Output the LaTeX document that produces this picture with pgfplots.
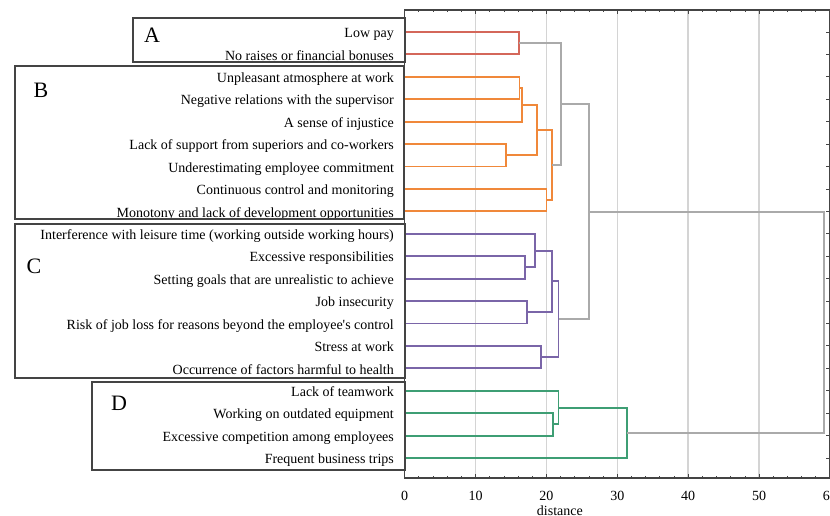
\documentclass[border=0pt]{standalone}
\usepackage{pgfplots}
\pgfplotsset{compat=1.18}
\usepackage{fontspec}
\setmainfont{Liberation Serif}
\definecolor{cA}{HTML}{D4675A}
\definecolor{cB}{HTML}{F0883A}
\definecolor{cC}{HTML}{7A65A8}
\definecolor{cD}{HTML}{3E9E74}
\definecolor{cG}{HTML}{AAAAAA}
\definecolor{grd}{HTML}{D4D4D4}
\definecolor{frm}{HTML}{444444}
\begin{document}
\begin{tikzpicture}[x=1pt,y=1pt]
\clip (-404.7,-37) rectangle (425.3,478);
\begin{axis}[
  at={(0,0)}, anchor=south west,
  scale only axis, width=425.3pt, height=468pt,
  xmin=0, xmax=60, ymin=0.108, ymax=20.98,
  xtick={0,10,...,60}, minor x tick num=4,
  ytick={1,...,20},
  yticklabels={Frequent business trips,
    Excessive competition among employees,
    Working on outdated equipment,
    Lack of teamwork,
    Occurrence of factors harmful to health,
    Stress at work,
    Risk of job loss for reasons beyond the employee\textquotesingle s control,
    Job insecurity,
    Setting goals that are unrealistic to achieve,
    Excessive responsibilities,
    Interference with leisure time (working outside working hours),
    Monotony and lack of development opportunities,
    Continuous control and monitoring,
    Underestimating employee commitment,
    Lack of support from superiors and co-workers,
    A sense of injustice,
    Negative relations with the supervisor,
    Unpleasant atmosphere at work,
    No raises or financial bonuses,
    Low pay},
  tick align=inside,
  xtick pos=both, ytick pos=both,
  xticklabel pos=lower, yticklabel pos=left,
  axis line style={frm, line width=1.1pt},
  tick style={frm, line width=0.8pt},
  major tick length=4pt, minor tick length=2.5pt,
  xmajorgrids=true,
  major x grid style={grd, line width=1.5pt},
  tick label style={font=\fontsize{14}{16.8}\selectfont},
  /pgf/number format/assume math mode=true,
  xticklabel style={yshift=-9.3pt},
  yticklabel style={xshift=-7.3pt, yshift=-2.5pt, text height=9.5pt, text depth=3pt},
  xlabel={distance},
  x label style={at={(rel axis cs:0.365,0)}, anchor=north, yshift=-24.3pt, font=\fontsize{14}{16.8}\selectfont},
  every axis plot/.append style={line width=1.9pt, line join=miter},
]
% cluster A
\addplot[cA] coordinates {(0,20)(16.1,20)(16.1,19)(0,19)};
% cluster B
\addplot[cB] coordinates {(0,18)(16.2,18)(16.2,17)(0,17)};
\addplot[cB] coordinates {(16.2,17.5)(16.6,17.5)(16.6,16)(0,16)};
\addplot[cB] coordinates {(0,15)(14.3,15)(14.3,14)(0,14)};
\addplot[cB] coordinates {(16.6,16.75)(18.7,16.75)(18.7,14.5)(14.3,14.5)};
\addplot[cB] coordinates {(0,13)(20.0,13)(20.0,12)(0,12)};
\addplot[cB] coordinates {(18.7,15.625)(20.8,15.625)(20.8,12.5)(20.0,12.5)};
% A + B
\addplot[cG] coordinates {(16.1,19.5)(22.1,19.5)(22.1,14.0625)(20.8,14.0625)};
% cluster C
\addplot[cC] coordinates {(0,10)(17.0,10)(17.0,9)(0,9)};
\addplot[cC] coordinates {(0,11)(18.4,11)(18.4,9.5)(17.0,9.5)};
\addplot[cC] coordinates {(0,8)(17.2,8)(17.2,7)(0,7)};
\addplot[cC] coordinates {(18.4,10.25)(20.8,10.25)(20.8,7.5)(17.2,7.5)};
\addplot[cC] coordinates {(0,6)(19.2,6)(19.2,5)(0,5)};
\addplot[cC] coordinates {(20.8,8.875)(21.7,8.875)(21.7,5.5)(19.2,5.5)};
% AB + C
\addplot[cG] coordinates {(22.1,16.78125)(26.0,16.78125)(26.0,7.1875)(21.7,7.1875)};
% cluster D
\addplot[cD] coordinates {(0,3)(20.9,3)(20.9,2)(0,2)};
\addplot[cD] coordinates {(0,4)(21.7,4)(21.7,2.5)(20.9,2.5)};
\addplot[cD] coordinates {(21.7,3.25)(31.3,3.25)(31.3,1)(0,1)};
% final
\addplot[cG] coordinates {(26.0,11.984)(59.2,11.984)(59.2,2.125)(31.3,2.125)};
\end{axis}
\draw[frm, line width=1.1pt] (-271.7,416) rectangle (0.3,460);
\draw[frm, line width=1.1pt] (-389.7,259) rectangle (-0.7,412);
\draw[frm, line width=1.1pt] (-389.7,100) rectangle (0.3,254);
\draw[frm, line width=1.1pt] (-312.7,8) rectangle (0.3,96);
\node[font=\fontsize{22}{26}\selectfont, inner sep=0pt] at (-252.7,443) {A};
\node[font=\fontsize{22}{26}\selectfont, inner sep=0pt] at (-363.7,388) {B};
\node[font=\fontsize{22}{26}\selectfont, inner sep=0pt] at (-370.7,211.5) {C};
\node[font=\fontsize{22}{26}\selectfont, inner sep=0pt] at (-285.7,75) {D};
\end{tikzpicture}
\end{document}
